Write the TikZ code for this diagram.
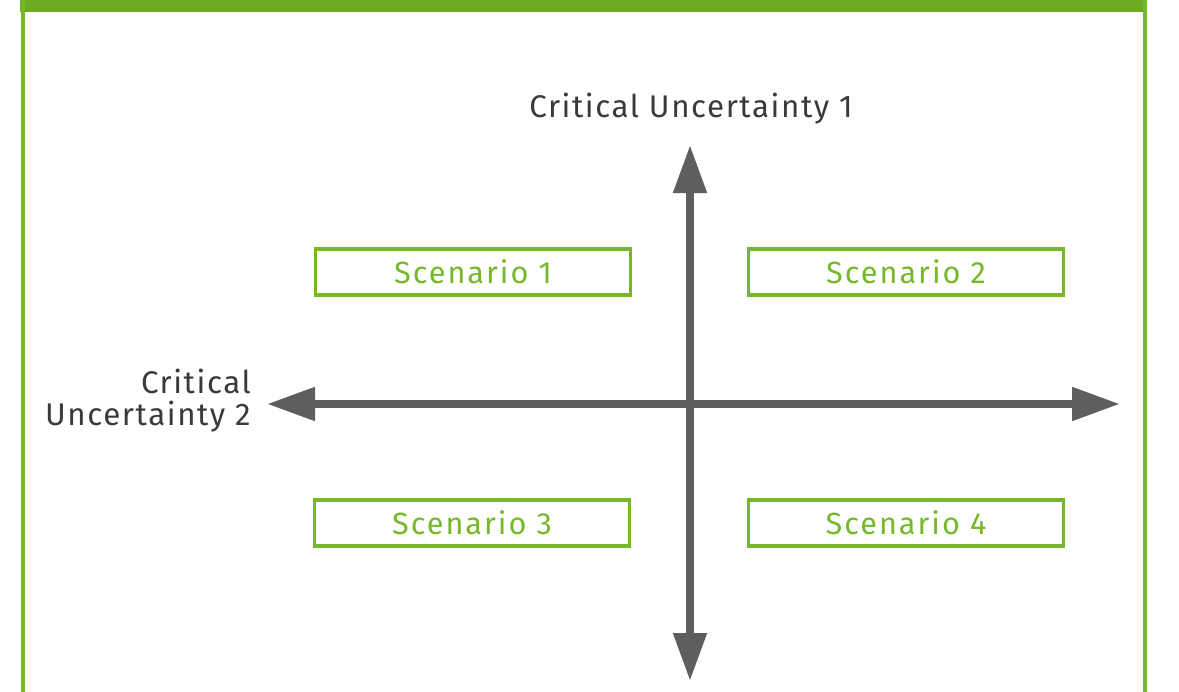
\documentclass[tikz,border=0pt]{standalone}
\usepackage{fontspec}
\setmainfont{Fira Sans}
\newfontfamily\labfont[LetterSpace=5]{Fira Sans}
\newfontfamily\scenfont[LetterSpace=6.5]{Fira Sans}
\usetikzlibrary{arrows.meta}
\definecolor{nvgreen}{HTML}{76B82A}
\definecolor{bargreen}{HTML}{6DAC22}
\definecolor{axisgray}{HTML}{5E5E5E}
\definecolor{textgray}{HTML}{3A3A3A}
\tikzset{
  scenbox/.style={draw=nvgreen, line width=2.6pt, minimum width=236pt, minimum height=34.5pt,
    inner sep=0pt, text=nvgreen, font=\scenfont\fontsize{23}{26}\selectfont},
  axislabel/.style={text=textgray, font=\labfont\fontsize{23.5}{24}\selectfont, inner sep=0pt},
  axisline/.style={draw=axisgray, line width=6pt, -{Triangle[length=36pt,width=24pt]}},
}
\begin{document}
\begin{tikzpicture}[x=0.75pt,y=-0.75pt]
\useasboundingbox (0,0) rectangle (1179,692);
% frame
\fill[bargreen] (20,0) rectangle (1147,12);
\draw[nvgreen, line width=3pt] (22.5,0) coordinate (fl1) -- (22.5,692) coordinate (fl2);
\draw[nvgreen, line width=3pt] (1144.5,0) coordinate (fr1) -- (1144.5,692) coordinate (fr2);
% axes
\coordinate (c) at (690,404);
\coordinate (top) at (690,145);
\coordinate (bot) at (690,681);
\coordinate (lft) at (267,404);
\coordinate (rgt) at (1120,404);
\draw[axisline] (c) -- (top);
\draw[axisline] (c) -- (bot);
\draw[axisline] (c) -- (lft);
\draw[axisline] (c) -- (rgt);
% labels
\node[axislabel] (cu1) at (691,109) {Critical Uncertainty 1};
\node[axislabel, align=right, anchor=east] (cu2) at (251,401) {Critical\\Uncertainty 2};
% scenarios
\node[scenbox] (s1) at (473,272) {Scenario 1};
\node[scenbox] (s2) at (906,272) {Scenario 2};
\node[scenbox] (s3) at (472,523) {Scenario 3};
\node[scenbox] (s4) at (906,523) {Scenario 4};
\end{tikzpicture}
\end{document}
